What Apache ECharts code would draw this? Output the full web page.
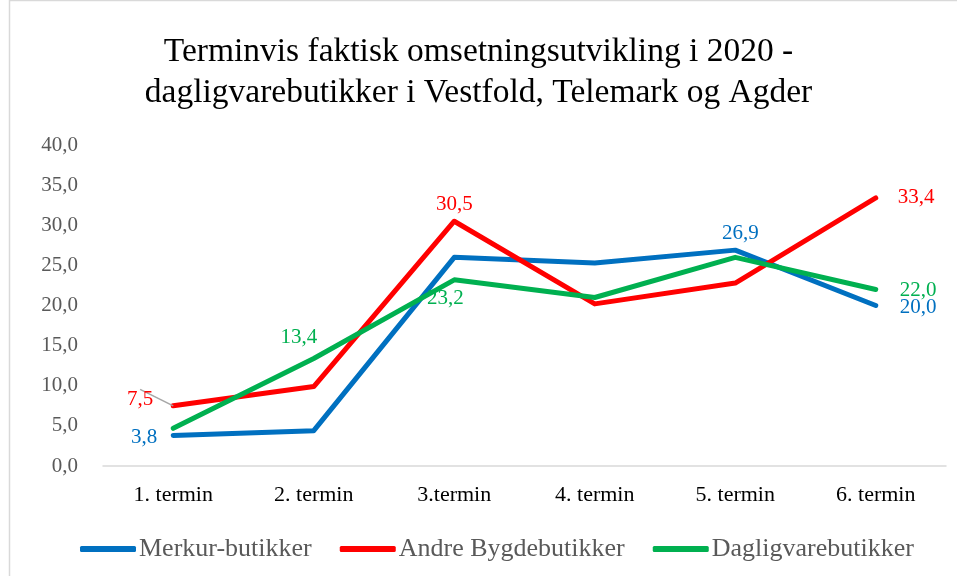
<!DOCTYPE html>
<html>
<head>
<meta charset="utf-8">
<script src="https://cdn.jsdelivr.net/npm/echarts@6/dist/echarts.min.js"></script>
<style>
  html, body { margin: 0; padding: 0; background: #fff; }
  #chart { width: 957px; height: 576px; }
</style>
</head>
<body>
<div id="chart"></div>
<script>
'use strict';

var categories = ['1. termin', '2. termin', '3.termin', '4. termin', '5. termin', '6. termin'];
var merkur = [3.8, 4.4, 26.0, 25.3, 26.9, 20.0];
var andre = [7.5, 9.9, 30.5, 20.2, 22.8, 33.4];
var dagligvare = [4.7, 13.4, 23.2, 21.0, 26.0, 22.0];

// label placement per labelled point: [position, distance, offsetX, offsetY]
var merkurLabels = { 0: ['left', 16, 0, 2], 4: ['top', 6, 5, 0], 5: ['right', 24, 0, 2] };
var andreLabels = { 0: ['left', 6, 0, 0], 2: ['top', 6, -6, 0], 5: ['right', 22, 0, 2] };
var dagligLabels = { 1: ['top', 10, -15, 0], 2: ['bottom', 8, -9, 0], 5: ['right', 24, 0, 1] };

var serif = 'Liberation Serif';

function fmt(v) {
  return v.toFixed(1).replace('.', ',');
}

function buildData(values, labels, color) {
  var out = [];
  for (var i = 0; i < values.length; i++) {
    var item = { value: values[i] };
    var l = labels[i];
    if (l) {
      item.label = {
        show: true,
        position: l[0],
        distance: l[1],
        offset: [l[2], l[3]],
        color: color,
        fontFamily: serif,
        fontSize: 21,
        formatter: function(p) { return fmt(p.value); }
      };
    }
    out.push(item);
  }
  return out;
}

function lineSeries(name, values, labels, color) {
  return {
    name: name,
    type: 'line',
    data: buildData(values, labels, color),
    symbol: 'circle',
    symbolSize: 0,
    showSymbol: true,
    lineStyle: { width: 5, color: color, cap: 'round', join: 'round' },
    itemStyle: { color: color },
    label: { show: false },
    emphasis: { disabled: true },
    z: 3
  };
}

var myChart = echarts.init(document.getElementById('chart'));

var redSeries = lineSeries('Andre Bygdebutikker', andre, andreLabels, '#FF0000');
// the 7,5 label is pushed out with a small leader line, as in the original
redSeries.data[0].labelLine = { show: true, lineStyle: { color: '#a6a6a6', width: 1.5 } };
redSeries.labelLayout = function(p) {
  if (p.dataIndex === 0) {
    return { dx: -14, dy: -6 };
  }
  return {};
};
redSeries.labelLine = { show: false, smooth: false, length2: 0 };

var option = {
  animation: false,
  backgroundColor: '#fff',
  title: {
    text: 'Terminvis faktisk omsetningsutvikling i 2020 -\ndagligvarebutikker i Vestfold, Telemark og Agder',
    left: 'center',
    top: 27,
    padding: [5, 0, 5, 10],
    textStyle: {
      fontFamily: serif,
      fontWeight: 'normal',
      fontSize: 33.5,
      color: '#000',
      lineHeight: 41
    }
  },
  graphic: [{
    type: 'rect',
    shape: { x: 9.5, y: 0.5, width: 960, height: 590 },
    style: { fill: null, stroke: '#d9d9d9', lineWidth: 1.5 },
    silent: true
  }],
  legend: {
    bottom: 9,
    left: 75,
    itemWidth: 56,
    itemHeight: 6,
    itemGap: 28,
    icon: 'roundRect',
    data: ['Merkur-butikker', 'Andre Bygdebutikker', 'Dagligvarebutikker'],
    textStyle: {
      fontFamily: serif,
      fontSize: 26,
      color: '#595959',
      padding: [0, 0, 0, -2]
    }
  },
  grid: {
    left: 103,
    right: 11,
    top: 145,
    bottom: 110,
    containLabel: false
  },
  xAxis: {
    type: 'category',
    data: categories,
    boundaryGap: true,
    axisLine: { show: true, lineStyle: { color: '#d9d9d9', width: 1.5 } },
    axisTick: { show: false },
    axisLabel: {
      fontFamily: serif,
      fontSize: 22,
      color: '#000',
      margin: 18
    },
    splitLine: { show: false }
  },
  yAxis: {
    type: 'value',
    min: 0,
    max: 40,
    interval: 5,
    axisLine: { show: false },
    axisTick: { show: false },
    splitLine: { show: false },
    axisLabel: {
      fontFamily: serif,
      fontSize: 21,
      color: '#595959',
      margin: 25,
      formatter: function(v) { return fmt(v); }
    }
  },
  series: [
    lineSeries('Merkur-butikker', merkur, merkurLabels, '#0070C0'),
    redSeries,
    lineSeries('Dagligvarebutikker', dagligvare, dagligLabels, '#00B050')
  ]
};

myChart.setOption(option);
</script>
</body>
</html>
